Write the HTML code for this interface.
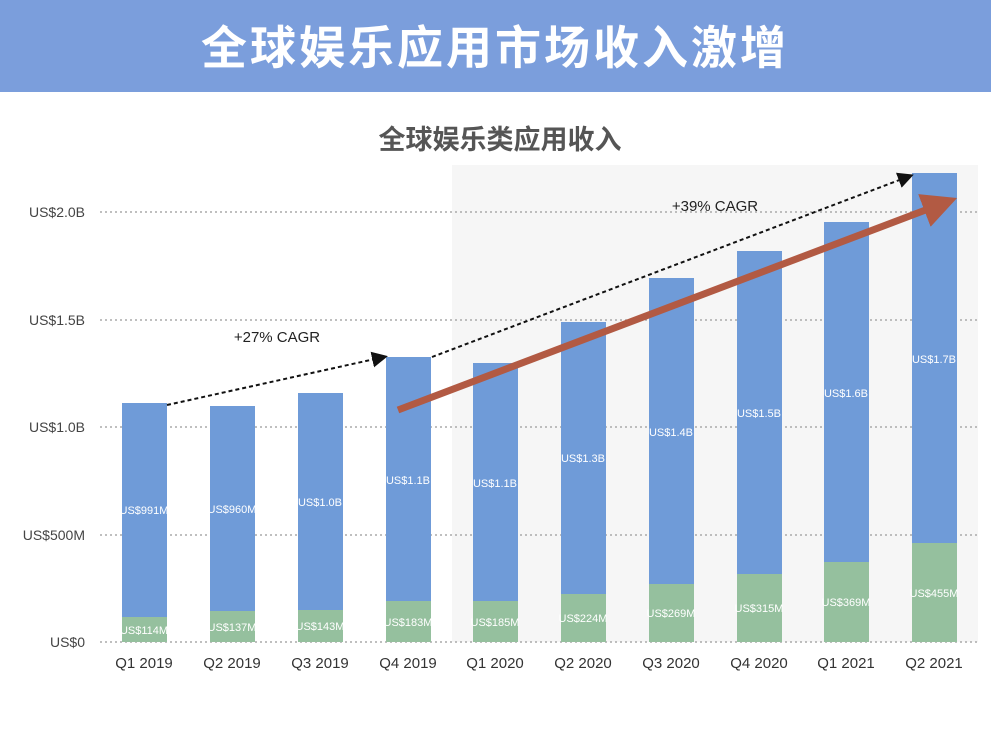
<!DOCTYPE html>
<html><head><meta charset="utf-8"><style>
body{margin:0;width:991px;height:735px;background:#fff;overflow:hidden;font-family:"Liberation Sans","Noto Sans CJK SC",sans-serif}
</style></head><body>
<svg width="991" height="735" xmlns="http://www.w3.org/2000/svg" font-family="Liberation Sans, Noto Sans CJK SC, sans-serif">
<defs><marker id="ah" markerWidth="8" markerHeight="8" refX="6" refY="4" orient="auto"><path d="M0,0 L8,4 L0,8 z" fill="#111"/></marker>
<marker id="rh" markerWidth="5" markerHeight="5" refX="3" refY="2.5" orient="auto"><path d="M0,0 L5,2.5 L0,5 z" fill="#b25a43"/></marker></defs>
<rect x="0" y="0" width="991" height="92" fill="#7b9edc"/>
<text x="495" y="64" text-anchor="middle" font-size="46" font-weight="bold" fill="#fff" font-family="Noto Sans CJK SC, sans-serif" letter-spacing="3">全球娱乐应用市场收入激增</text>
<text x="500" y="149" text-anchor="middle" font-size="27" font-weight="bold" fill="#555" font-family="Noto Sans CJK SC, sans-serif">全球娱乐类应用收入</text>
<rect x="452" y="165" width="526" height="477" fill="#f6f6f6"/>
<g stroke="#aaa" stroke-width="1.5" stroke-dasharray="2,3">
<line x1="100" y1="212" x2="978" y2="212"/><line x1="100" y1="320" x2="978" y2="320"/><line x1="100" y1="427" x2="978" y2="427"/><line x1="100" y1="535" x2="978" y2="535"/><line x1="100" y1="642" x2="978" y2="642"/></g>
<g font-size="14" fill="#444" text-anchor="end">
<text x="85" y="217">US$2.0B</text><text x="85" y="325">US$1.5B</text><text x="85" y="432">US$1.0B</text><text x="85" y="540">US$500M</text><text x="85" y="647">US$0</text></g>
<g fill="#6f9bd8">
<rect x="122" y="403" width="45" height="239"/><rect x="210" y="406" width="45" height="236"/><rect x="298" y="393" width="45" height="249"/><rect x="386" y="357" width="45" height="285"/><rect x="473" y="363" width="45" height="279"/><rect x="561" y="322" width="45" height="320"/><rect x="649" y="278" width="45" height="364"/><rect x="737" y="251" width="45" height="391"/><rect x="824" y="222" width="45" height="420"/><rect x="912" y="173" width="45" height="469"/></g>
<g fill="#95c09e">
<rect x="122" y="617" width="45" height="25"/><rect x="210" y="611" width="45" height="31"/><rect x="298" y="610" width="45" height="32"/><rect x="386" y="601" width="45" height="41"/><rect x="473" y="601" width="45" height="41"/><rect x="561" y="594" width="45" height="48"/><rect x="649" y="584" width="45" height="58"/><rect x="737" y="574" width="45" height="68"/><rect x="824" y="562" width="45" height="80"/><rect x="912" y="543" width="45" height="99"/></g>
<g font-size="11" fill="#fff" text-anchor="middle">
<text x="144" y="514">US$991M</text><text x="232" y="513">US$960M</text><text x="320" y="506">US$1.0B</text><text x="408" y="484">US$1.1B</text><text x="495" y="487">US$1.1B</text><text x="583" y="462">US$1.3B</text><text x="671" y="436">US$1.4B</text><text x="759" y="417">US$1.5B</text><text x="846" y="397">US$1.6B</text><text x="934" y="363">US$1.7B</text>
<text x="144" y="634">US$114M</text><text x="232" y="631">US$137M</text><text x="320" y="630">US$143M</text><text x="408" y="626">US$183M</text><text x="495" y="626">US$185M</text><text x="583" y="622">US$224M</text><text x="671" y="617">US$269M</text><text x="759" y="612">US$315M</text><text x="846" y="606">US$369M</text><text x="934" y="597">US$455M</text></g>
<g font-size="15" fill="#333" text-anchor="middle">
<text x="144" y="668">Q1 2019</text><text x="232" y="668">Q2 2019</text><text x="320" y="668">Q3 2019</text><text x="408" y="668">Q4 2019</text><text x="495" y="668">Q1 2020</text><text x="583" y="668">Q2 2020</text><text x="671" y="668">Q3 2020</text><text x="759" y="668">Q4 2020</text><text x="846" y="668">Q1 2021</text><text x="934" y="668">Q2 2021</text></g>
<g stroke="#111" stroke-width="2" stroke-dasharray="4,3" fill="none">
<line x1="167" y1="405" x2="384" y2="357" marker-end="url(#ah)"/>
<line x1="432" y1="357" x2="910" y2="176" marker-end="url(#ah)"/></g>
<line x1="398" y1="410" x2="944" y2="203" stroke="#b25a43" stroke-width="7" marker-end="url(#rh)"/>
<text x="277" y="342" font-size="15" fill="#222" text-anchor="middle">+27% CAGR</text>
<text x="715" y="211" font-size="15" fill="#222" text-anchor="middle">+39% CAGR</text>
</svg>
</body></html>
